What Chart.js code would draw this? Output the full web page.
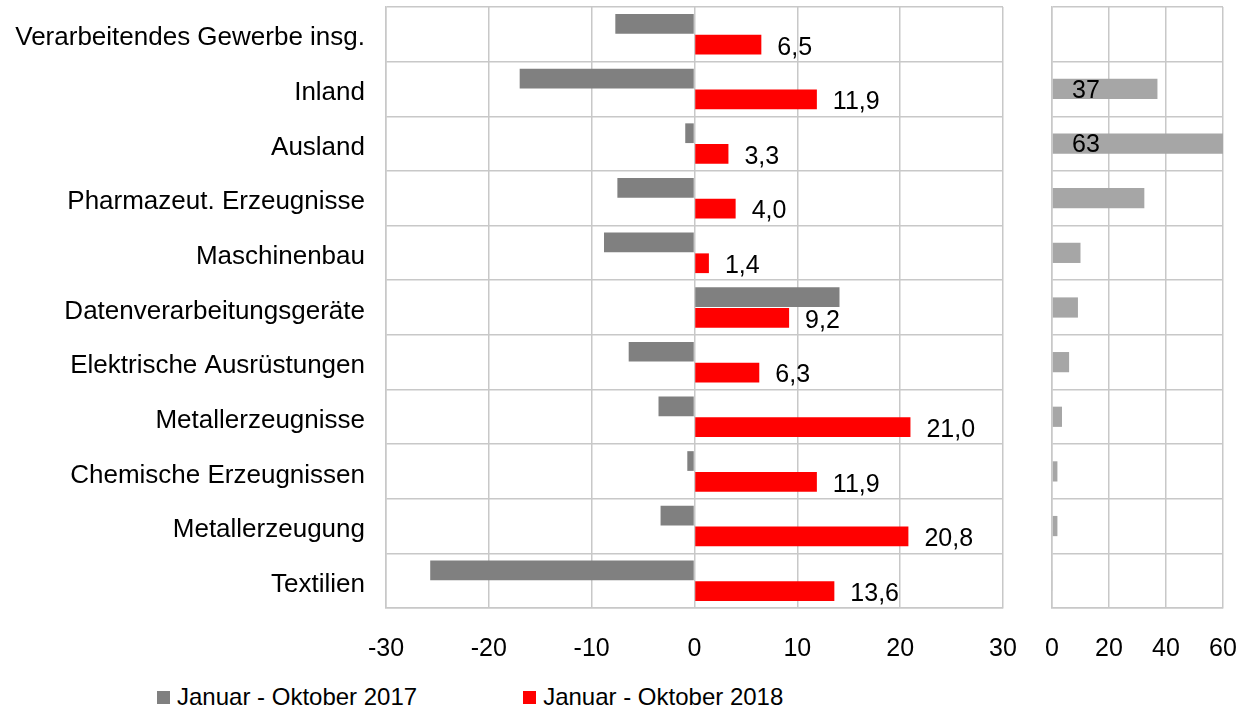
<!DOCTYPE html>
<html lang="de">

<head>
    <meta charset="UTF-8">
    <title>Auftragseingang Januar - Oktober</title>
    <style>
        body {
            margin: 0;
            width: 1252px;
            height: 712px;
            overflow: hidden;
            background: #ffffff;
            font-family: "Liberation Sans", Arial, sans-serif;
            position: relative;
        }

        #leftChart {
            position: absolute;
            left: 0;
            top: 0;
        }

        #rightChart {
            position: absolute;
            left: 1030px;
            top: 0;
        }

        #legend {
            position: absolute;
            left: 157px;
            top: 683px;
            display: flex;
            gap: 106px;
            font-size: 24px;
            color: #000;
            line-height: 28px;
        }

        .item {
            display: flex;
            align-items: center;
        }

        .box {
            width: 13px;
            height: 13px;
            margin-right: 7px;
        }
    </style>
</head>

<body>
    <canvas id="leftChart" width="1030" height="680"></canvas>
    <canvas id="rightChart" width="222" height="680"></canvas>
    <div id="legend"></div>

    <script src="https://cdn.jsdelivr.net/npm/chart.js@4.4.1/dist/chart.umd.min.js"></script>
    <script>
        // Daten
        const categories = [
            'Verarbeitendes Gewerbe insg.',
            'Inland',
            'Ausland',
            'Pharmazeut. Erzeugnisse',
            'Maschinenbau',
            'Datenverarbeitungsgeräte',
            'Elektrische Ausrüstungen',
            'Metallerzeugnisse',
            'Chemische Erzeugnissen',
            'Metallerzeugung',
            'Textilien'
        ];
        const seriesNames = ['Januar - Oktober 2017', 'Januar - Oktober 2018'];
        const values2017 = [-7.7, -17.0, -0.9, -7.5, -8.8, 14.1, -6.4, -3.5, -0.7, -3.3, -25.7];
        const values2018 = [6.5, 11.9, 3.3, 4.0, 1.4, 9.2, 6.3, 21.0, 11.9, 20.8, 13.6];
        const shareValues = [null, 37, 63, 32.4, 10.0, 9.1, 6.0, 3.5, 1.9, 1.9, 0.3];
        const shareLabels = ['', '37', '63', '', '', '', '', '', '', '', ''];
        const leftTicks = { min: -30, max: 30, step: 10 };
        const rightTicks = { min: 0, max: 60, step: 20 };

        const colors = ['#808080', '#ff0000'];
        const shareColor = '#a6a6a6';
        const gridColor = '#c8c8c8';
        const fontFamily = '"Liberation Sans", Arial, sans-serif';

        // Chart.js soll keinen Platz für Beschriftungen zusätzlich einrechnen
        function noPad(scale) {
            scale.paddingTop = 0;
            scale.paddingBottom = 0;
            scale.paddingLeft = 0;
            scale.paddingRight = 0;
        }

        // Werte rechts neben den roten Balken
        const redLabels = {
            id: 'redLabels',
            afterDatasetsDraw(chart) {
                const c = chart.ctx;
                c.save();
                c.font = '25px ' + fontFamily;
                c.fillStyle = '#000';
                c.textAlign = 'left';
                c.textBaseline = 'middle';
                chart.getDatasetMeta(1).data.forEach((bar, i) => {
                    const txt = values2018[i].toFixed(1).replace('.', ',');
                    c.fillText(txt, bar.x + 16, bar.y + 3);
                });
                c.restore();
            }
        };

        const shareLabelPlugin = {
            id: 'shareLabels',
            afterDatasetsDraw(chart) {
                const c = chart.ctx;
                c.save();
                c.font = '25px ' + fontFamily;
                c.fillStyle = '#000';
                c.textAlign = 'left';
                c.textBaseline = 'middle';
                chart.getDatasetMeta(0).data.forEach((bar, i) => {
                    if (shareLabels[i]) c.fillText(shareLabels[i], chart.chartArea.left + 20, bar.y + 2);
                });
                c.restore();
            }
        };

        const leftChart = new Chart(document.getElementById('leftChart'), {
            type: 'bar',
            data: {
                labels: categories,
                datasets: [
                    { label: seriesNames[0], data: values2017, backgroundColor: colors[0] },
                    { label: seriesNames[1], data: values2018, backgroundColor: colors[1] }
                ]
            },
            options: {
                indexAxis: 'y',
                responsive: false,
                animation: false,
                categoryPercentage: 0.76,
                barPercentage: 0.95,
                layout: { padding: { top: 7, right: 27, left: 0, bottom: 0 } },
                plugins: {
                    legend: { display: false },
                    tooltip: { enabled: false }
                },
                scales: {
                    x: {
                        min: leftTicks.min,
                        max: leftTicks.max,
                        ticks: {
                            stepSize: leftTicks.step,
                            color: '#000',
                            padding: 26,
                            font: { family: fontFamily, size: 25 }
                        },
                        grid: { color: gridColor, lineWidth: 1.5, drawTicks: false },
                        border: { color: gridColor, width: 1.5 },
                        afterFit(scale) { scale.height = 72; noPad(scale); }
                    },
                    y: {
                        ticks: {
                            color: '#000',
                            padding: 21,
                            labelOffset: 4,
                            font: { family: fontFamily, size: 26 }
                        },
                        grid: { color: gridColor, lineWidth: 1.5, drawTicks: false, offset: true },
                        border: { color: gridColor, width: 1.5 },
                        afterFit(scale) { scale.width = 386; noPad(scale); }
                    }
                }
            },
            plugins: [redLabels]
        });

        new Chart(document.getElementById('rightChart'), {
            type: 'bar',
            data: {
                labels: categories,
                datasets: [
                    { label: 'Anteil', data: shareValues, backgroundColor: shareColor }
                ]
            },
            options: {
                indexAxis: 'y',
                responsive: false,
                animation: false,
                categoryPercentage: 0.37,
                barPercentage: 1,
                layout: { padding: { top: 7, right: 29, left: 0, bottom: 0 } },
                plugins: {
                    legend: { display: false },
                    tooltip: { enabled: false }
                },
                scales: {
                    x: {
                        min: rightTicks.min,
                        max: rightTicks.max,
                        ticks: {
                            stepSize: rightTicks.step,
                            color: '#000',
                            padding: 26,
                            font: { family: fontFamily, size: 25 }
                        },
                        grid: { color: gridColor, lineWidth: 1.5, drawTicks: false },
                        border: { color: gridColor, width: 1.5 },
                        afterFit(scale) { scale.height = 72; noPad(scale); }
                    },
                    y: {
                        ticks: { display: false },
                        grid: { color: gridColor, lineWidth: 1.5, drawTicks: false, offset: true },
                        border: { color: gridColor, width: 1.5 },
                        afterFit(scale) { scale.width = 22; noPad(scale); }
                    }
                }
            },
            plugins: [shareLabelPlugin]
        });

        // Legende aus den Datensätzen
        const legend = document.getElementById('legend');
        leftChart.data.datasets.forEach(ds => {
            const item = document.createElement('div');
            item.className = 'item';
            const box = document.createElement('span');
            box.className = 'box';
            box.style.background = ds.backgroundColor;
            const txt = document.createElement('span');
            txt.textContent = ds.label;
            item.appendChild(box);
            item.appendChild(txt);
            legend.appendChild(item);
        });
    </script>
</body>

</html>
